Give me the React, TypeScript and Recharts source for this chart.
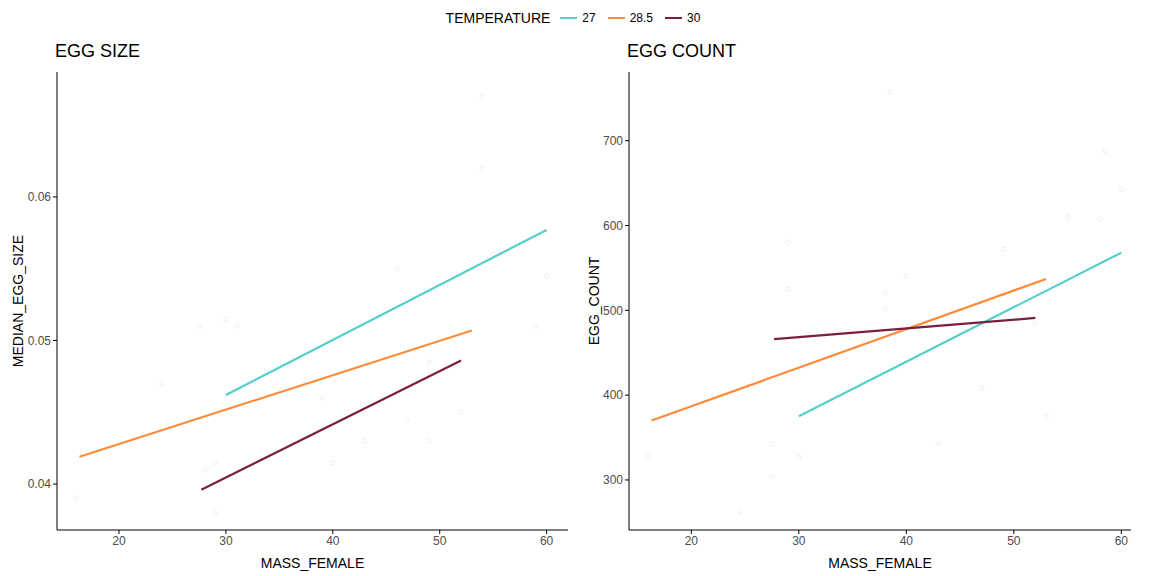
import { ComposedChart, Line, Scatter, XAxis, YAxis } from 'recharts';

const temps = ['27', '28.5', '30'];
const colors = ['#55cfcb', '#ff8c3a', '#7b1f3f'];

// fitted lines [x1, y1, x2, y2]
const sizeLines = [
  [30, 0.0462, 60, 0.0577],
  [16.3, 0.0419, 53, 0.0507],
  [27.7, 0.0396, 52, 0.0486],
];
const countLines = [
  [30, 375, 60, 568],
  [16.3, 370, 53, 537],
  [27.7, 466, 52, 491],
];

const sizePoints = [
  [16, 0.039], [24, 0.047], [27.5, 0.051], [28, 0.041], [29, 0.0415], [29, 0.038],
  [30, 0.0515], [31, 0.051], [39, 0.046], [40, 0.0415], [43, 0.043], [46, 0.055],
  [47, 0.0445], [49, 0.043], [49, 0.0485], [52, 0.045], [54, 0.062], [54, 0.067],
  [55, 0.056], [59, 0.051], [60, 0.0545],
];
const countPoints = [
  [16, 328], [24.5, 263], [27.5, 342], [27.5, 304], [29, 580], [29, 525], [30, 327],
  [38.5, 757], [38, 520], [38, 502], [40, 540], [43, 343], [47, 408], [49, 572],
  [49, 520], [52, 485], [58.5, 688], [60, 643], [55, 610], [58, 608], [53, 375],
];

const sizeTicks = [0.04, 0.05, 0.06];
const countTicks = [300, 400, 500, 600, 700];
const xTicks = [20, 30, 40, 50, 60];

const tick = { fill: '#4d4d4d', fontSize: 12 };

function Panel(props: any) {
  const { left, lines, points, yTicks, yDomain, xDomain, yLabel, title, yWidth, right, fmt } = props;
  return (
    <div style={{ position: 'absolute', left, top: 0 }}>
      <div style={{ position: 'absolute', left: yWidth - 2, top: 41, fontSize: 18, color: '#000' }}>{title}</div>
      <ComposedChart width={576} height={576} margin={{ top: 72, right, bottom: 0, left: 0 }}>
        <XAxis type="number" dataKey="x" domain={xDomain} ticks={xTicks} allowDataOverflow
          stroke="#000" tick={tick} tickSize={4} height={46}
          label={{ value: 'MASS_FEMALE', position: 'insideBottom', offset: 8, fill: '#000', fontSize: 14 }} />
        <YAxis type="number" dataKey="y" domain={yDomain} ticks={yTicks} allowDataOverflow
          stroke="#000" tick={tick} tickSize={4} width={yWidth} tickFormatter={fmt}
          label={{ value: yLabel, angle: -90, position: 'insideLeft', offset: 18, fill: '#000', fontSize: 14, style: { textAnchor: 'middle' } }} />
        <Scatter data={points.map((p: number[]) => ({ x: p[0], y: p[1] }))} isAnimationActive={false}
          shape={(s: any) => <circle cx={s.cx} cy={s.cy} r={2.2} fill="none" stroke="#c06080" strokeOpacity={0.12} />} />
        {lines.map((l: number[], i: number) => (
          <Line key={i} data={[{ x: l[0], y: l[1] }, { x: l[2], y: l[3] }]} dataKey="y"
            stroke={colors[i]} strokeWidth={2.2} dot={false} isAnimationActive={false} />
        ))}
      </ComposedChart>
    </div>
  );
}

export default function App() {
  return (
    <div style={{ position: 'absolute', left: 0, top: 0, width: 1152, height: 576, background: '#fff', fontFamily: 'Arial, "Liberation Sans", sans-serif' }}>
      <div style={{ position: 'absolute', top: 10, left: 0, width: 1152, display: 'flex', justifyContent: 'center', alignItems: 'center', fontSize: 14, gap: 6 }}>
        <span style={{ marginRight: 4 }}>TEMPERATURE</span>
        {temps.map((t, i) => (
          <span key={t} style={{ display: 'flex', alignItems: 'center', gap: 5, marginRight: 6, fontSize: 12 }}>
            <span style={{ width: 17, height: 2, background: colors[i], display: 'inline-block' }} />
            {t}
          </span>
        ))}
      </div>
      <Panel left={0} lines={sizeLines} points={sizePoints} yTicks={sizeTicks} yDomain={[0.0368, 0.0687]}
        xDomain={[14.2, 62]} yLabel="MEDIAN_EGG_SIZE" title="EGG SIZE" yWidth={57} right={8}
        fmt={(v: number) => v.toFixed(2)} />
      <Panel left={576} lines={countLines} points={countPoints} yTicks={countTicks} yDomain={[241, 781]}
        xDomain={[14.2, 60.9]} yLabel="EGG_COUNT" title="EGG COUNT" yWidth={53} right={21}
        fmt={(v: number) => String(v)} />
    </div>
  );
}
